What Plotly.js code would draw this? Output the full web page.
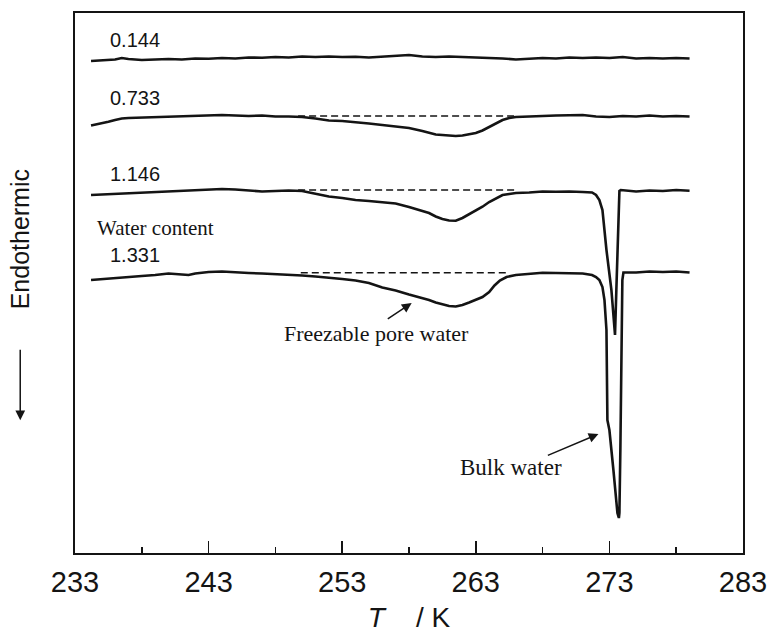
<!DOCTYPE html>
<html>
<head>
<meta charset="utf-8">
<script src="https://cdn.plot.ly/plotly-3.0.1.min.js"></script>
<style>
  html, body { margin: 0; padding: 0; background: #fff; }
  #chart { width: 769px; height: 633px; }
</style>
</head>
<body>
<div id="chart"></div>
<script>
// DSC cooling curves of the wet sample, one per water content (g/g).
// Heat flow is in arbitrary units; the curves are stacked for clarity.

const waterContents = ['0.144', '0.733', '1.146', '1.331'];

// --- water content 0.144 ---
const temp144 = [234.2, 235, 236, 236.5, 237, 238, 239, 240, 241, 242, 243, 244, 245, 246, 247, 248, 249, 250,
  251, 252, 253, 254, 255, 256, 257, 258, 259, 260, 261, 262, 263, 264, 265, 266, 267, 268, 269, 270,
  271, 272, 273, 274, 275, 276, 277, 278, 279];
const heat144 = [492, 492.5, 493.5, 495, 494, 493, 493.5, 494, 493.5, 494.5, 494.3, 495, 494.5, 495.5, 495.2, 496, 495.5, 496.5,
  496, 496.5, 496, 496.2, 495.5, 496.5, 497, 498, 496.5, 496, 496.5, 496, 496, 495.5, 494.5, 493.5, 494, 495, 494.5, 495.5,
  495, 495.5, 495, 496, 494.5, 495, 494.5, 495, 494.5];

// --- water content 0.733 ---
const temp733 = [234.2, 235, 235.5, 236, 236.5, 237, 238, 239, 240, 241, 242, 243, 244, 245, 246, 247, 248, 249, 250,
  251, 252, 253, 254, 255, 256, 257, 258, 259, 259.5, 260, 261, 261.5, 262, 262.5, 263, 263.5, 264, 264.5, 265, 265.5,
  266, 267, 268, 269, 270, 271, 272, 273, 274, 275, 276, 277, 278, 279];
const heat733 = [427.5, 429.5, 431.3, 433, 434.5, 435, 435.5, 436, 435.8, 436.5, 437, 437.5, 438, 437.5, 437, 437.5, 436.5, 436.5, 436,
  434.5, 432.5, 432, 431, 429.5, 428, 426.5, 425, 422, 420, 418.5, 417.5, 417, 417.5, 418.5, 420, 422.5, 426, 429.5, 433, 435,
  436, 436.5, 437.2, 437.5, 437.8, 438, 436.5, 436, 437, 436.5, 437.5, 436.5, 437, 436.5];

// --- water content 1.146 ---
const temp1146 = [234.2, 235, 236, 237, 238, 239, 240, 241, 242, 243, 244, 245, 246, 247, 248, 249, 250,
  251, 252, 253, 254, 255, 256, 257, 258, 259, 259.5, 260, 260.5, 261, 261.5, 262, 262.5, 263, 263.5, 264, 264.5, 265, 265.5,
  266, 267, 268, 269, 270, 271, 271.7, 272.0, 272.25, 272.48, 272.78, 273.15, 273.3, 273.42, 273.52, 273.75, 273.85,
  275, 276, 277, 278, 279];
const heat1146 = [358, 358.5, 359.5, 360, 360.5, 361, 361.5, 362, 363, 363.5, 364, 363.5, 362.5, 361.5, 362, 362.5, 362,
  359.5, 356.5, 355, 353, 352, 351, 349.5, 346, 342, 340, 336.5, 334, 332.5, 332.3, 335, 338.5, 342.5, 346.3, 351, 354.5, 358, 359,
  360, 360.5, 361.5, 361.2, 361.5, 361, 360.5, 358, 353, 343, 303, 263, 233, 218, 263, 362, 363,
  361.5, 362.5, 362, 363, 362.3];

// --- water content 1.331 ---
const temp1331 = [234.2, 235, 236, 237, 238, 239, 240, 241, 241.5, 242, 243, 244, 245, 246, 247, 248, 249, 250,
  251, 252, 253, 254, 255, 256, 257, 258, 259, 259.5, 260, 260.5, 261, 261.5, 262, 262.5, 263, 263.5, 264, 264.4, 264.8,
  265.3, 266, 266.8, 268, 269, 270, 271, 271.7, 272.0, 272.25, 272.48, 272.63, 272.78, 272.85, 273.0, 273.3, 273.6,
  273.71, 273.75, 273.82, 273.9, 273.97, 274.05, 275, 276, 277, 278, 279];
const heat1331 = [273, 274, 275, 276, 277, 278, 279.5, 278.5, 278, 279.5, 281, 281.5, 280.5, 280, 279.5, 279, 278, 277.5,
  276.5, 275.5, 274, 272.5, 270, 265.5, 262.5, 258.5, 255, 253, 250.5, 248.5, 247, 246.5, 248, 250.5, 253, 256, 261, 267.5, 272.5,
  276, 278, 279, 280.3, 280, 279.7, 279.5, 278, 276, 273, 266, 253, 223, 133, 123, 83, 40,
  35, 40, 103, 203, 273, 280.5, 280.5, 281.5, 281, 281.5, 280.5];

// Extrapolated baselines under the pore-water freezing peaks
const baselineFrom = [249.7, 249.7, 249.9];
const baselineTo = [265.9, 265.9, 265.3];
const baselineLevel = [437, 363, 280.3];

const curveTemps = [temp144, temp733, temp1146, temp1331];
const curveHeats = [heat144, heat733, heat1146, heat1331];

const ink = '#141414';
const traces = [];

curveTemps.forEach((t, i) => {
  traces.push({
    x: t, y: curveHeats[i], mode: 'lines', type: 'scatter',
    line: { color: ink, width: 2.6 }, hoverinfo: 'skip', showlegend: false
  });
});

baselineLevel.forEach((lvl, i) => {
  traces.push({
    x: [baselineFrom[i], baselineTo[i]], y: [lvl, lvl], mode: 'lines', type: 'scatter',
    line: { color: ink, width: 1.5, dash: '7px,4px' }, hoverinfo: 'skip', showlegend: false
  });
});

const sans = 'Liberation Sans, Arial, sans-serif';
const serif = 'Liberation Serif, Times New Roman, serif';

// Water-content labels sit just above the start of each curve
const labelY = [513, 455.5, 379.5, 298];
const annotations = waterContents.map((w, i) => ({
  text: w, x: 235.45, y: labelY[i], xref: 'x', yref: 'y',
  xanchor: 'left', yanchor: 'middle', showarrow: false,
  font: { family: sans, size: 20, color: ink }
}));

annotations.push(
  { text: 'Water content', x: 234.5, y: 325, xref: 'x', yref: 'y', xanchor: 'left', yanchor: 'middle',
    showarrow: false, font: { family: serif, size: 21, color: ink } },
  { text: 'Freezable pore water', x: 255.6, y: 220, xref: 'x', yref: 'y', xanchor: 'center', yanchor: 'middle',
    showarrow: false, font: { family: serif, size: 22, color: ink } },
  { text: 'Bulk water', x: 265.66, y: 86, xref: 'x', yref: 'y', xanchor: 'center', yanchor: 'middle',
    showarrow: false, font: { family: serif, size: 23, color: ink } },
  // pointer arrows
  { text: '', x: 258.2, y: 250, ax: 256.3, ay: 233, xref: 'x', yref: 'y', axref: 'x', ayref: 'y',
    showarrow: true, arrowhead: 2, arrowsize: 1.3, arrowwidth: 1.5, arrowcolor: ink },
  { text: '', x: 272.18, y: 119, ax: 268.28, ay: 97, xref: 'x', yref: 'y', axref: 'x', ayref: 'y',
    showarrow: true, arrowhead: 2, arrowsize: 1.3, arrowwidth: 1.5, arrowcolor: ink },
  // y-axis caption with its downward arrow
  { text: 'Endothermic', x: -0.083, y: 0.58, xref: 'paper', yref: 'paper', textangle: -90,
    xanchor: 'center', yanchor: 'middle', showarrow: false, font: { family: sans, size: 25, color: ink } },
  { text: '', x: -0.082, y: 0.246, xref: 'paper', yref: 'paper', ax: 0, ay: -72, axref: 'pixel', ayref: 'pixel',
    showarrow: true, arrowhead: 2, arrowsize: 1.3, arrowwidth: 1.5, arrowcolor: ink }
);

const layout = {
  width: 769, height: 633,
  margin: { l: 75, r: 26, t: 13, b: 80 },
  paper_bgcolor: '#fff', plot_bgcolor: '#fff',
  showlegend: false,
  xaxis: {
    range: [233, 283], tick0: 233, dtick: 10,
    ticks: 'inside', ticklen: 12, tickwidth: 1.5, tickcolor: ink,
    minor: { ticks: 'inside', ticklen: 6, tickwidth: 1.5, dtick: 5, tick0: 233, tickcolor: ink },
    showline: true, linecolor: ink, linewidth: 1.6, mirror: true,
    showgrid: false, zeroline: false,
    ticklabelstandoff: 3,
    tickfont: { family: sans, size: 29, color: ink },
    title: { text: '<i>T</i>\u00a0\u00a0\u00a0\u00a0/ K', font: { family: sans, size: 28, color: ink }, standoff: 15 }
  },
  yaxis: {
    range: [0, 540], showticklabels: false, ticks: '',
    showline: true, linecolor: ink, linewidth: 1.6, mirror: true,
    showgrid: false, zeroline: false
  },
  annotations: annotations
};

Plotly.newPlot('chart', traces, layout, { staticPlot: true, displayModeBar: false });
</script>
</body>
</html>
